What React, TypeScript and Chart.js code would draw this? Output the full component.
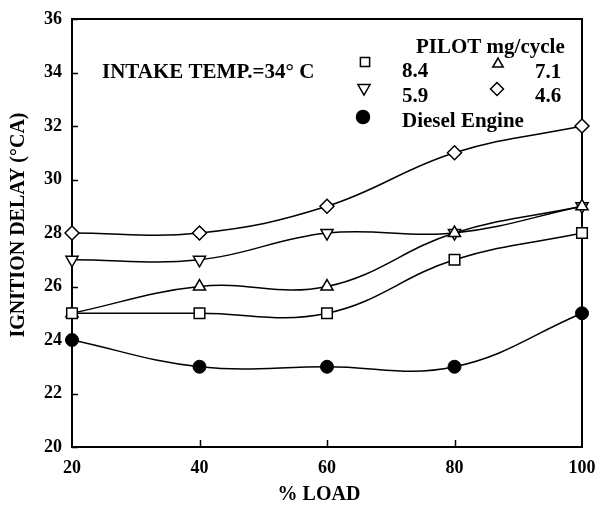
import React, { useEffect, useRef } from "react";
import { Chart, registerables } from "chart.js";
import { drawPoint } from "chart.js/helpers";

Chart.register(...registerables);

const loads = [20, 40, 60, 80, 100];
const pilot84 = [25, 25, 25, 27, 28];
const pilot71 = [25, 26, 26, 28, 29];
const pilot59 = [27, 27, 28, 28, 29];
const pilot46 = [28, 28, 29, 31, 32];
const diesel = [24, 23, 23, 23, 25];
const yTickValues = [20, 22, 24, 26, 28, 30, 32, 34, 36];
const xTickValues = [40, 60, 80];

const xTitle = "% LOAD";
const yTitle = "IGNITION DELAY (°CA)";
const noteText = "INTAKE TEMP.=34° C";
const legendTitle = "PILOT mg/cycle";
const legendLabels = ["8.4", "7.1", "5.9", "4.6", "Diesel Engine"];

const SERIF = '"Liberation Serif", "Times New Roman", serif';

const toPts = (arr: number[]) => loads.map((x, i) => ({ x, y: arr[i] }));

const overlay = {
  id: "overlay",
  beforeDatasetsDraw(chart: any) {
    const { ctx, chartArea: a, scales } = chart;
    ctx.save();
    ctx.strokeStyle = "#000";
    ctx.lineWidth = 2;
    ctx.strokeRect(a.left, a.top, a.right - a.left, a.bottom - a.top);
    ctx.lineWidth = 1.5;
    ctx.beginPath();
    yTickValues.forEach((v) => {
      const y = Math.round(scales.y.getPixelForValue(v)) + 0.5;
      ctx.moveTo(a.left, y);
      ctx.lineTo(a.left + 6, y);
    });
    xTickValues.forEach((v) => {
      const x = Math.round(scales.x.getPixelForValue(v)) + 0.5;
      ctx.moveTo(x, a.bottom);
      ctx.lineTo(x, a.bottom - 7);
    });
    ctx.stroke();
    ctx.restore();
  },
  afterDraw(chart: any) {
    const { ctx } = chart;
    ctx.save();
    ctx.fillStyle = "#000";
    ctx.textBaseline = "middle";
    ctx.font = `bold 20px ${SERIF}`;
    ctx.textAlign = "center";
    ctx.fillText(xTitle, 319, 495);
    ctx.save();
    ctx.translate(19, 225);
    ctx.rotate(-Math.PI / 2);
    ctx.fillText(yTitle, 0, 0);
    ctx.restore();
    ctx.font = `bold 21px ${SERIF}`;
    ctx.textAlign = "left";
    ctx.fillText(noteText, 102, 73);
    ctx.fillText(legendTitle, 416, 48);
    ctx.fillText(legendLabels[0], 402, 72);
    ctx.fillText(legendLabels[1], 535, 73);
    ctx.fillText(legendLabels[2], 402, 97);
    ctx.fillText(legendLabels[3], 535, 97);
    ctx.fillText(legendLabels[4], 402, 122);
    ctx.strokeStyle = "#000";
    ctx.lineWidth = 1.5;
    ctx.fillStyle = "#fff";
    drawPoint(ctx, { pointStyle: "rect", radius: 6.5, borderWidth: 1.5, rotation: 0 }, 365, 62);
    drawPoint(ctx, { pointStyle: "triangle", radius: 6, borderWidth: 1.5, rotation: 0 }, 498, 64);
    drawPoint(ctx, { pointStyle: "triangle", radius: 7, borderWidth: 1.5, rotation: 180 }, 364, 88);
    drawPoint(ctx, { pointStyle: "rectRot", radius: 6.5, borderWidth: 1.5, rotation: 0 }, 497, 89);
    ctx.fillStyle = "#000";
    drawPoint(ctx, { pointStyle: "circle", radius: 6.5, borderWidth: 1, rotation: 0 }, 363, 117);
    ctx.restore();
  },
};

export default function App() {
  const ref = useRef<HTMLCanvasElement | null>(null);
  useEffect(() => {
    if (!ref.current) return;
    const common = {
      borderColor: "#000",
      borderWidth: 1.5,
      pointBorderColor: "#000",
      pointBorderWidth: 1.5,
      tension: 0.4,
      clip: false as any,
      fill: false,
    };
    const chart = new Chart(ref.current, {
      type: "line",
      data: {
        datasets: [
          { ...common, label: "Diesel Engine", data: toPts(diesel), pointStyle: "circle", pointRadius: 6.5, pointBackgroundColor: "#000", pointBorderWidth: 1 },
          { ...common, label: "8.4", data: toPts(pilot84), pointStyle: "rect", pointRadius: 7.5, pointBackgroundColor: "#fff" },
          { ...common, label: "7.1", data: toPts(pilot71), pointStyle: "triangle", pointRadius: 7, pointBackgroundColor: "#fff" },
          { ...common, label: "5.9", data: toPts(pilot59), pointStyle: "triangle", pointRotation: 180, pointRadius: 7, pointBackgroundColor: "#fff" },
          { ...common, label: "4.6", data: toPts(pilot46), pointStyle: "rectRot", pointRadius: 7, pointBackgroundColor: "#fff" },
        ] as any,
      },
      options: {
        animation: false,
        responsive: false,
        layout: { padding: { left: 0, right: 16, top: 19, bottom: 0 } },
        plugins: { legend: { display: false }, tooltip: { enabled: false } },
        scales: {
          x: {
            type: "linear",
            min: 20,
            max: 100,
            grid: { display: false, drawTicks: false },
            border: { display: false },
            ticks: {
              stepSize: 20,
              padding: 11,
              color: "#000",
              font: { family: SERIF, size: 18, weight: "bold" },
              maxRotation: 0,
            },
            afterFit: (s: any) => { s.height = 63; s.paddingLeft = 0; s.paddingRight = 0; },
          },
          y: {
            type: "linear",
            min: 20,
            max: 36,
            grid: { display: false, drawTicks: false },
            border: { display: false },
            ticks: {
              stepSize: 2,
              padding: 10,
              color: "#000",
              font: { family: SERIF, size: 18, weight: "bold" },
            },
            afterFit: (s: any) => { s.width = 72; s.paddingTop = 0; s.paddingBottom = 0; },
          },
        },
      } as any,
      plugins: [overlay],
    });
    return () => chart.destroy();
  }, []);
  return (
    <div style={{ position: "fixed", left: 0, top: 0, width: 598, height: 510, background: "#fff" }}>
      <canvas ref={ref} width={598} height={510} style={{ display: "block" }} />
    </div>
  );
}
